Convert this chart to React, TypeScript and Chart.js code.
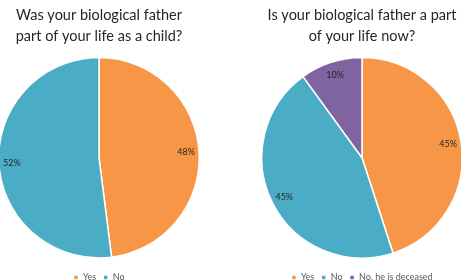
import React, { useEffect, useRef } from "react";
import { Chart, registerables } from "chart.js";

Chart.register(...registerables);

const leftTitle = ["Was your biological father", "part of your life as a child?"];
const leftLabels = ["Yes", "No"];
const leftValues = [48, 52];
const leftColors = ["#F79646", "#4BACC6"];

const rightTitle = ["Is your biological father a part", "of your life now?"];
const rightLabels = ["Yes", "No", "No, he is deceased"];
const rightValues = [45, 45, 10];
const rightColors = ["#F79646", "#4BACC6", "#8064A2"];

const FONT = "Lato, 'Open Sans', sans-serif";

const pctLabels = {
  id: "pctLabels",
  afterDatasetsDraw(chart: any) {
    const ctx = chart.ctx;
    const meta = chart.getDatasetMeta(0);
    const data = chart.data.datasets[0].data;
    ctx.save();
    ctx.font = `9px ${FONT}`;
    ctx.fillStyle = "#262626";
    ctx.textAlign = "center";
    ctx.textBaseline = "middle";
    meta.data.forEach((arc: any, i: number) => {
      const { x, y, startAngle, endAngle, outerRadius } = arc.getProps(
        ["x", "y", "startAngle", "endAngle", "outerRadius"],
        true
      );
      const mid = (startAngle + endAngle) / 2;
      const d = outerRadius - 13;
      ctx.fillText(`${data[i]}%`, x + Math.cos(mid) * d, y + Math.sin(mid) * d);
    });
    ctx.restore();
  },
};

function PieChart(props: {
  title: string[];
  labels: string[];
  values: number[];
  colors: string[];
  style: React.CSSProperties;
}) {
  const ref = useRef<HTMLCanvasElement>(null);
  useEffect(() => {
    const chart = new Chart(ref.current!, {
      type: "pie",
      data: {
        labels: props.labels,
        datasets: [
          {
            data: props.values,
            backgroundColor: props.colors,
            borderColor: "#ffffff",
            borderWidth: 1.5,
          },
        ],
      },
      plugins: [pctLabels],
      options: {
        animation: false,
        responsive: false,
        maintainAspectRatio: false,
        layout: { padding: 0 },
        plugins: {
          tooltip: { enabled: false },
          title: {
            display: true,
            text: props.title,
            color: "#262626",
            font: { family: FONT, size: 14.5, weight: "normal", lineHeight: 1.5 },
            padding: { top: 4, bottom: 2 },
          },
          legend: {
            position: "bottom",
            labels: {
              color: "#595959",
              font: { family: FONT, size: 9 },
              boxWidth: 5,
              boxHeight: 5,
              padding: 7,
            },
          },
        },
      },
    });
    return () => chart.destroy();
  }, []);
  return <canvas ref={ref} width={202} height={292} style={props.style} />;
}

export default function App() {
  return (
    <div
      style={{
        position: "fixed",
        left: 0,
        top: 0,
        width: 461,
        height: 280,
        overflow: "hidden",
        background: "#fff",
      }}
    >
      <PieChart
        title={leftTitle}
        labels={leftLabels}
        values={leftValues}
        colors={leftColors}
        style={{ position: "absolute", left: -2, top: 0, width: 202, height: 292 }}
      />
      <PieChart
        title={rightTitle}
        labels={rightLabels}
        values={rightValues}
        colors={rightColors}
        style={{ position: "absolute", left: 261, top: 0, width: 202, height: 292 }}
      />
    </div>
  );
}
